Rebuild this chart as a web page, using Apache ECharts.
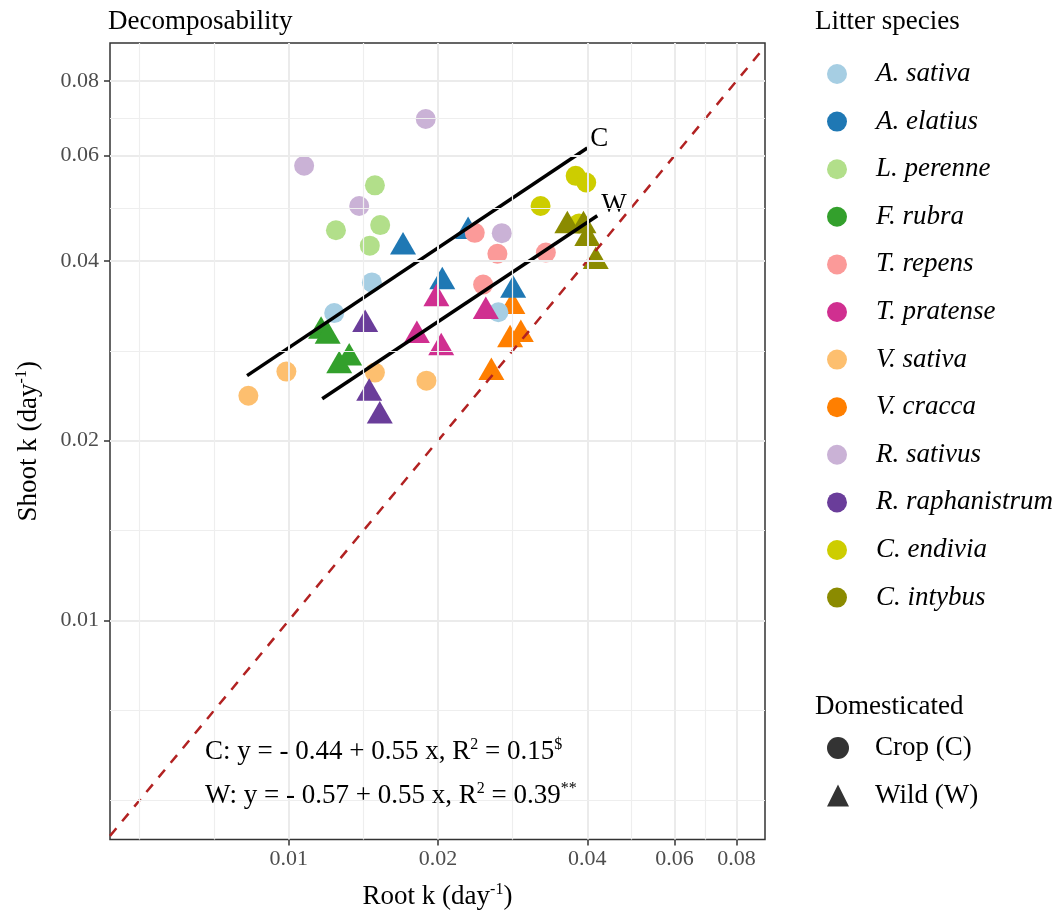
<!DOCTYPE html>
<html>
<head>
<meta charset="utf-8">
<title>Decomposability</title>
<script src="https://cdn.jsdelivr.net/npm/echarts@6/dist/echarts.min.js"></script>
<style>
  html, body { margin: 0; padding: 0; background: #fff; }
  #chart { width: 1061px; height: 915px; }
</style>
</head>
<body>
<div id="chart"></div>
<script>
var FONT = '"Liberation Serif", "Times New Roman", serif';

/* litter species, legend order */
var species = ['A. sativa', 'A. elatius', 'L. perenne', 'F. rubra', 'T. repens', 'T. pratense',
               'V. sativa', 'V. cracca', 'R. sativus', 'R. raphanistrum', 'C. endivia', 'C. intybus'];
var speciesColors = ['#a6cee3', '#1f78b4', '#b2df8a', '#33a02c', '#fb9a99', '#d02f90',
                     '#fdbf6f', '#ff7f00', '#cab2d6', '#6a3d9a', '#cdcd00', '#8b8b00'];
var domesticated = ['C', 'W', 'C', 'W', 'C', 'W', 'C', 'W', 'C', 'W', 'C', 'W'];

/* [root k, shoot k] per species (day-1) */
var aSativa = [[0.01235, 0.0327], [0.01471, 0.0368], [0.02647, 0.0328]];
var aElatius = [[0.0170, 0.0422], [0.0230, 0.0448], [0.0204, 0.0369], [0.02835, 0.0357]];
var lPerenne = [[0.01492, 0.0535], [0.01529, 0.0459], [0.01245, 0.0450], [0.01457, 0.0424]];
var fRubra = [[0.01162, 0.0305], [0.01198, 0.0299], [0.01264, 0.0267], [0.01324, 0.0275]];
var tRepens = [[0.02372, 0.04455], [0.02635, 0.0411], [0.02466, 0.0365], [0.0330, 0.0413]];
var tPratense = [[0.01985, 0.03455], [0.02497, 0.0329], [0.01813, 0.0300], [0.0203, 0.0286]];
var vSativa = [[0.00829, 0.02378], [0.00989, 0.0261], [0.01492, 0.0260], [0.01895, 0.0252]];
var vCracca = [[0.02825, 0.03355], [0.02795, 0.0295], [0.02938, 0.0301], [0.02562, 0.0260]];
var rSativus = [[0.01889, 0.0691], [0.01074, 0.0577], [0.01387, 0.0494], [0.02689, 0.0445]];
var rRaphanistrum = [[0.01426, 0.0313], [0.01453, 0.0240], [0.01526, 0.0220]];
var cEndivia = [[0.0379, 0.0555], [0.0398, 0.0541], [0.0322, 0.0494], [0.0385, 0.0462]];
var cIntybus = [[0.03646, 0.0458], [0.0393, 0.0458], [0.0400, 0.0436], [0.0416, 0.0399]];
var speciesData = [aSativa, aElatius, lPerenne, fRubra, tRepens, tPratense,
                   vSativa, vCracca, rSativus, rRaphanistrum, cEndivia, cIntybus];

/* fitted lines (ends) and 1:1 line */
var cropLine = [[0.00824, 0.0257], [0.0400, 0.0618]];
var wildLine = [[0.01168, 0.0235], [0.0419, 0.0476]];
var oneToOne = [[0.00436, 0.00436], [0.0913, 0.0913]];

var majorTicks = [0.01, 0.02, 0.04, 0.06, 0.08];
var minorTicks = [0.005, 0.00707, 0.01414, 0.02828, 0.04899, 0.06928];
var xRange = [0.00436, 0.0913];
var yRange = [0.0043, 0.0926];

var cropEq = ['- 0.44', '0.55', '0.15', '$'];
var wildEq = ['- 0.57', '0.55', '0.39', '**'];

var chart = echarts.init(document.getElementById('chart'));

var txt = { fontFamily: FONT, fontSize: 27, fontWeight: 'normal', color: '#000', lineHeight: 30 };
var sup = { fontFamily: FONT, fontSize: 16, fontWeight: 'normal', color: '#000', lineHeight: 16, verticalAlign: 'top' };

function gridLines() {
  var out = [];
  var thick = { color: '#ebebeb', width: 2, type: 'solid' };
  var thin = { color: '#eeeeee', width: 1.2, type: 'solid' };
  majorTicks.forEach(function (v) {
    out.push({ xAxis: v, lineStyle: thick });
    out.push({ yAxis: v, lineStyle: thick });
  });
  minorTicks.forEach(function (v) {
    out.push({ xAxis: v, lineStyle: thin });
    out.push({ yAxis: v, lineStyle: thin });
  });
  return out;
}

function eqText(tag, eq) {
  return '{t|' + tag + ': y = ' + eq[0] + ' + ' + eq[1] + ' x, R}{s|2}{t| = ' + eq[2] + '}{s|' + eq[3] + '}';
}

function axisCommon(range) {
  return {
    type: 'log',
    logBase: 10,
    min: range[0],
    max: range[1],
    axisLine: { show: false },
    splitLine: { show: false },
    axisTick: { show: true, length: 6, customValues: majorTicks, lineStyle: { color: '#333', width: 1.5 } },
    axisLabel: {
      customValues: majorTicks,
      fontFamily: FONT, fontSize: 22, color: '#4d4d4d',
      formatter: function (v) { return String(+(+v).toFixed(2)); }
    },
    nameLocation: 'middle',
    nameTextStyle: { rich: { t: txt, s: sup } }
  };
}

var xAxis = axisCommon(xRange);
xAxis.axisLabel.margin = 9;
xAxis.name = '{t|Root k (day}{s|-1}{t|)}';
xAxis.nameGap = 42;

var yAxis = axisCommon(yRange);
yAxis.axisLabel.margin = 11;
yAxis.name = '{t|Shoot k (day}{s|-1}{t|)}';
yAxis.nameGap = 66;

// draw order: orange triangles sit under the blue ones
var drawOrder = [7, 0, 1, 2, 3, 4, 5, 6, 8, 9, 10, 11];

var series = [{
  name: 'gridlines',
  type: 'line',
  data: [],
  silent: true,
  z: 1,
  markLine: {
    silent: true, precision: 6, symbol: ['none', 'none'],
    label: { show: false }, data: gridLines()
  }
}];

drawOrder.forEach(function (i) {
  var wild = domesticated[i] === 'W';
  series.push({
    name: species[i],
    type: 'scatter',
    data: speciesData[i],
    symbol: wild ? 'triangle' : 'circle',
    symbolSize: wild ? [26, 22.5] : 20,
    symbolOffset: wild ? [0, '-16.7%'] : [0, 0],
    itemStyle: { color: speciesColors[i], opacity: 1 },
    z: 2
  });
});

series.push({
  name: 'Crop (C)', type: 'scatter', data: [], symbol: 'circle', itemStyle: { color: '#000' }
}, {
  name: 'Wild (W)', type: 'scatter', data: [], symbol: 'triangle', itemStyle: { color: '#000' }
}, {
  name: '1:1',
  type: 'line',
  data: oneToOne,
  symbol: 'none',
  silent: true,
  z: 3,
  lineStyle: { color: '#b22222', width: 2.5, type: [10, 9] }
}, {
  name: 'crop fit',
  type: 'line',
  data: cropLine,
  symbol: 'none',
  silent: true,
  z: 4,
  lineStyle: { color: '#000', width: 3.5 },
  endLabel: { show: true, formatter: 'C', fontFamily: FONT, fontSize: 27, color: '#000', offset: [-5, -9] }
}, {
  name: 'wild fit',
  type: 'line',
  data: wildLine,
  symbol: 'none',
  silent: true,
  z: 4,
  lineStyle: { color: '#000', width: 3.5 },
  endLabel: { show: true, formatter: 'W', fontFamily: FONT, fontSize: 27, color: '#000', offset: [-4, -11] }
});

var titleStyle = { fontFamily: FONT, fontSize: 27, fontWeight: 'normal', color: '#000' };

var option = {
  animation: false,
  backgroundColor: '#fff',
  grid: {
    left: 110, top: 43, width: 655, height: 797,
    show: true, backgroundColor: '#fff', borderColor: '#333', borderWidth: 1.5
  },
  title: [
    { text: 'Decomposability', left: 108, top: 8, padding: 0, textStyle: titleStyle },
    { text: 'Litter species', left: 815, top: 8, padding: 0, textStyle: titleStyle },
    { text: 'Domesticated', left: 815, top: 693, padding: 0, textStyle: titleStyle },
    { text: eqText('C', cropEq), left: 205, top: 737, padding: 0, textStyle: { fontWeight: 'normal', rich: { t: txt, s: sup } } },
    { text: eqText('W', wildEq), left: 205, top: 781, padding: 0, textStyle: { fontWeight: 'normal', rich: { t: txt, s: sup } } }
  ],
  legend: [{
    orient: 'vertical', left: 827, top: 60, padding: 0,
    itemWidth: 20, itemHeight: 20, itemGap: 19.6,
    selectedMode: false,
    data: species.map(function (n) { return { name: n, icon: 'circle' }; }),
    textStyle: { fontFamily: FONT, fontSize: 27, fontStyle: 'italic', color: '#000', lineHeight: 28, padding: [0, 0, 0, 24] }
  }, {
    orient: 'vertical', left: 827, top: 734, padding: 0,
    itemWidth: 22, itemHeight: 22, itemGap: 19.6,
    selectedMode: false,
    data: [{ name: 'Crop (C)', icon: 'circle' }, { name: 'Wild (W)', icon: 'triangle' }],
    textStyle: { fontFamily: FONT, fontSize: 27, color: '#000', lineHeight: 28, padding: [0, 0, 0, 21] }
  }],
  xAxis: xAxis,
  yAxis: yAxis,
  series: series
};

chart.setOption(option);
</script>
</body>
</html>
